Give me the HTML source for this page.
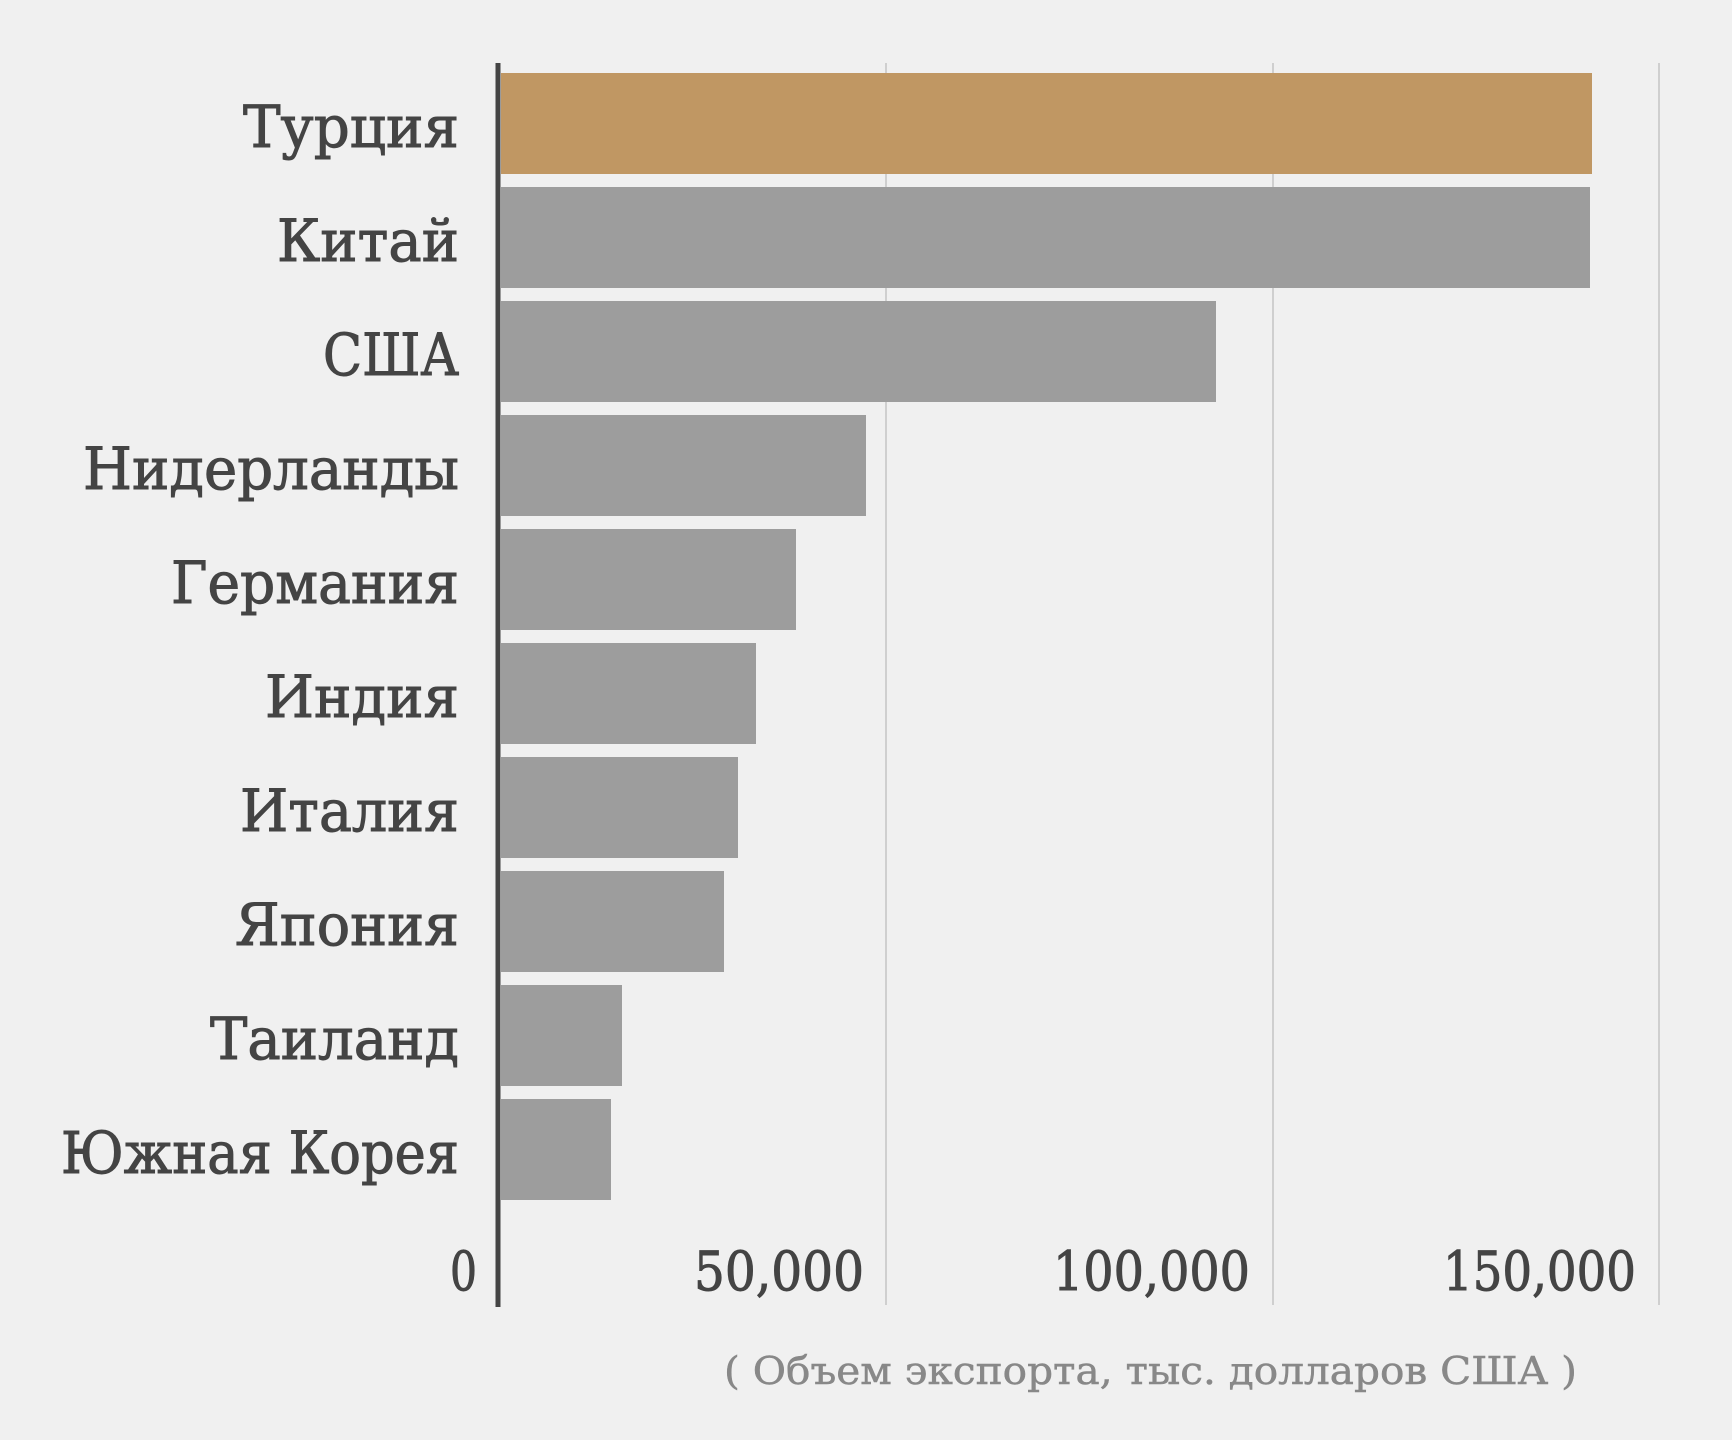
<!DOCTYPE html>
<html><head><meta charset="utf-8"><style>
html,body{margin:0;padding:0;background:#f0f0f0;}
svg{display:block;}
text{font-family:"DejaVu Serif","Liberation Serif",serif;}
</style></head><body>
<svg width="1732" height="1440" viewBox="0 0 1732 1440" xmlns="http://www.w3.org/2000/svg">
<rect width="1732" height="1440" fill="#f0f0f0"/>
<g stroke="#cfcfcf" stroke-width="2">
<line x1="886" y1="63" x2="886" y2="1305"/>
<line x1="1273" y1="63" x2="1273" y2="1305"/>
<line x1="1659" y1="63" x2="1659" y2="1305"/>
</g>
<rect x="501" y="73" width="1091" height="101" fill="#c09763"/>
<g fill="#9d9d9d">
<rect x="501" y="187" width="1089" height="101"/>
<rect x="501" y="301" width="715" height="101"/>
<rect x="501" y="415" width="365" height="101"/>
<rect x="501" y="529" width="295" height="101"/>
<rect x="501" y="643" width="255" height="101"/>
<rect x="501" y="757" width="237" height="101"/>
<rect x="501" y="871" width="223" height="101"/>
<rect x="501" y="985" width="121" height="101"/>
<rect x="501" y="1099" width="110" height="101"/>
</g>
<line x1="498" y1="63" x2="498" y2="1307" stroke="#444" stroke-width="5"/>
<g fill="#444" stroke="#444" stroke-width="1" font-size="58">
<text x="243" y="147" textLength="216" lengthAdjust="spacingAndGlyphs">Турция</text>
<text x="277" y="261" textLength="182" lengthAdjust="spacingAndGlyphs">Китай</text>
<text x="323" y="375" textLength="136" lengthAdjust="spacingAndGlyphs">США</text>
<text x="83" y="489" textLength="376" lengthAdjust="spacingAndGlyphs">Нидерланды</text>
<text x="171" y="603" textLength="288" lengthAdjust="spacingAndGlyphs">Германия</text>
<text x="265" y="717" textLength="194" lengthAdjust="spacingAndGlyphs">Индия</text>
<text x="240" y="831" textLength="219" lengthAdjust="spacingAndGlyphs">Италия</text>
<text x="235" y="945" textLength="224" lengthAdjust="spacingAndGlyphs">Япония</text>
<text x="210" y="1059" textLength="249" lengthAdjust="spacingAndGlyphs">Таиланд</text>
<text x="61" y="1173" textLength="398" lengthAdjust="spacingAndGlyphs">Южная Корея</text>
</g>
<g fill="#444" stroke="#444" stroke-width="1" font-size="54">
<text x="450" y="1290" textLength="27" lengthAdjust="spacingAndGlyphs">0</text>
<text x="694" y="1290" textLength="170" lengthAdjust="spacingAndGlyphs">50,000</text>
<text x="1053" y="1290" textLength="197" lengthAdjust="spacingAndGlyphs">100,000</text>
<text x="1443" y="1290" textLength="193" lengthAdjust="spacingAndGlyphs">150,000</text>
</g>
<text x="724" y="1384" fill="#888" stroke="#888" stroke-width="0.5" font-size="38" textLength="853" lengthAdjust="spacingAndGlyphs">( Объем экспорта, тыс. долларов США )</text>
</svg>
</body></html>
